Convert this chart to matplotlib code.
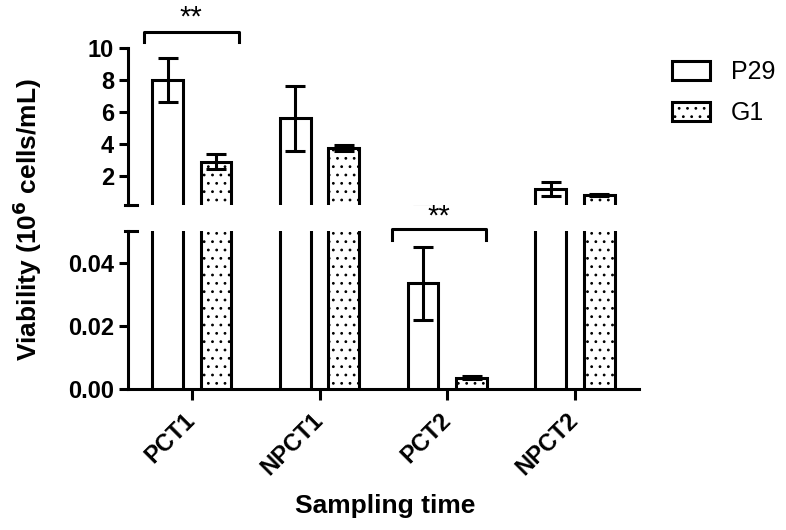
import numpy as np
import matplotlib
matplotlib.use('Agg')
import matplotlib.pyplot as plt

### ------------------- Data -------------------

categories = ['PCT1', 'NPCT1', 'PCT2', 'NPCT2']
series = ['P29', 'G1']
p29_mean = [8.0, 5.6, 0.0335, 1.17]
p29_sd = [1.35, 2.05, 0.0116, 0.45]
g1_mean = [2.9, 3.75, 0.0036, 0.81]
g1_sd = [0.45, 0.2, 0.0005, 0.08]

### ------------------- Style -------------------

plt.rcParams['font.family'] = ['Liberation Sans', 'DejaVu Sans']
plt.rcParams['hatch.linewidth'] = 0.8
plt.rcParams['hatch.color'] = '#444444'
LW = 2.2
HATCH = '..'


def draw_bars(ax):
    x = np.arange(len(categories))
    off, w = 0.19, 0.24
    ax.bar(x - off, p29_mean, w, color='white', edgecolor='black', linewidth=LW,
           yerr=p29_sd, error_kw=dict(elinewidth=LW, capsize=7, capthick=LW), zorder=3)
    ax.bar(x + off, g1_mean, w, color='white', edgecolor='black', linewidth=LW,
           hatch=HATCH, yerr=g1_sd,
           error_kw=dict(elinewidth=LW, capsize=7, capthick=LW), zorder=3)
    ax.set_xlim(-0.5, 3.5)


def style_axis(ax):
    for s in ['top', 'right']:
        ax.spines[s].set_visible(False)
    for s in ['left', 'bottom']:
        ax.spines[s].set_linewidth(LW)
    ax.tick_params(width=LW, length=6.5, labelsize=17, direction='out')
    for lab in ax.get_yticklabels():
        lab.set_fontweight('bold')


def bracket(ax, x0, x1, ytop, yleg, ystar):
    ax.plot([x0, x0, x1, x1], [yleg, ytop, ytop, yleg], color='black',
            linewidth=LW, clip_on=False, zorder=4)
    ax.text((x0 + x1) / 2, ystar, '**', ha='center', va='baseline',
            fontsize=21, clip_on=False)


fig = plt.figure(figsize=(7.86, 5.30), dpi=100)
ax_top = fig.add_axes([0.1628, 1 - 204.8 / 530, 0.650, 156.8 / 530])
ax_bot = fig.add_axes([0.1628, 0.2660, 0.650, 0.2981])

draw_bars(ax_top)
draw_bars(ax_bot)

# upper segment
ax_top.set_ylim(0.2, 10)
ax_top.set_yticks([2, 4, 6, 8, 10])
ax_top.spines['bottom'].set_visible(False)
ax_top.set_xticks([])
style_axis(ax_top)

# lower segment
ax_bot.set_ylim(0, 0.05)
ax_bot.set_yticks([0.0, 0.02, 0.04])
ax_bot.set_yticklabels(['%.2f' % v for v in [0.0, 0.02, 0.04]])
ax_bot.set_xticks(np.arange(len(categories)))
ax_bot.set_xticklabels(categories, rotation=45, ha='right', va='center',
                       rotation_mode='anchor', fontweight='bold')
style_axis(ax_bot)
ax_bot.tick_params(axis='x', length=8, pad=12)

# break marks on the y axis
ax_top.plot([-0.006, 0.018], [0, 0], transform=ax_top.transAxes, color='black',
            linewidth=LW, clip_on=False)
ax_bot.plot([-0.006, 0.018], [1, 1], transform=ax_bot.transAxes, color='black',
            linewidth=LW, clip_on=False)

# significance brackets
bracket(ax_top, -0.375, 0.367, 11.0, 10.4, 11.4)
bracket(ax_bot, 2 - 0.43, 2 + 0.30, 0.0505, 0.0471, 0.0522)

# labels
fig.text(27 / 786, 1 - 220 / 530, 'Viability (10$^{\\mathbf{6}}$ cells/mL)',
         rotation=90, ha='center', va='center', fontsize=19, fontweight='bold')
fig.text(385 / 786, 1 - 513 / 530, 'Sampling time', ha='center', va='baseline',
         fontsize=19, fontweight='bold')

h1 = plt.Rectangle((0, 0), 1, 1, facecolor='white', edgecolor='black', linewidth=LW)
h2 = plt.Rectangle((0, 0), 1, 1, facecolor='white', edgecolor='black', linewidth=LW,
                   hatch=HATCH)
fig.legend([h1, h2], series, loc='upper left', bbox_to_anchor=(672 / 786, 1 - 60 / 530),
           frameon=False, fontsize=18, handlelength=1.5, handleheight=0.8,
           handletextpad=0.85, labelspacing=0.7, borderpad=0, borderaxespad=0)

plt.savefig('out.png', dpi=100)
